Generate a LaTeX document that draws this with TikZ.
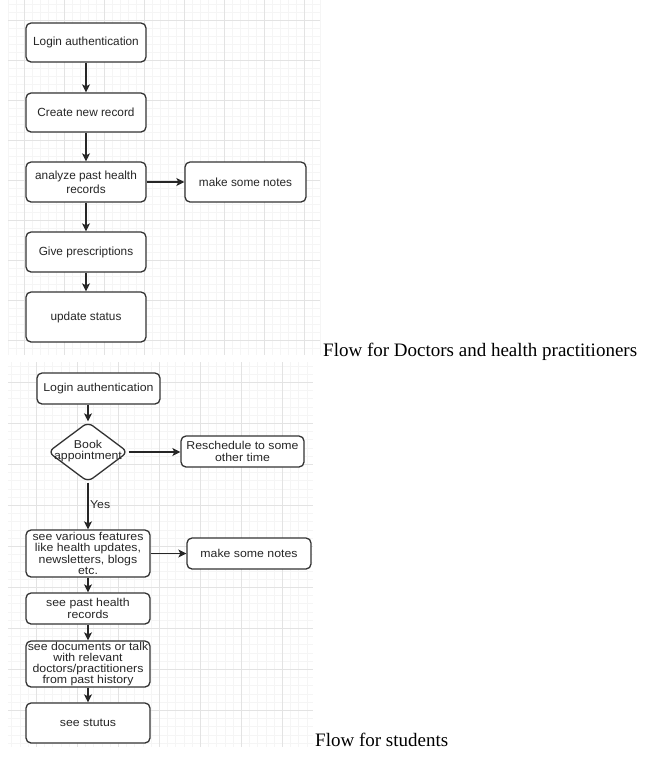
\documentclass[tikz,border=0pt]{standalone}
\usepackage{fontspec}
\setmainfont{Liberation Serif}
\newfontfamily\boxfont{Liberation Sans}
\newfontfamily\boxfontw[FakeStretch=1.08]{Liberation Sans}
\usetikzlibrary{arrows.meta,shapes.geometric}
\begin{document}
\begin{tikzpicture}[x=1pt,y=-1pt,
  minorgrid/.style={draw=gray!8,line width=0.8pt},
  majorgrid/.style={draw=gray!22,line width=0.9pt},
  tbox/.style={draw=black!80,fill=white,line width=1.3pt,rounded corners=5pt,text=black!85,
    align=center,inner sep=0pt,font=\boxfont\fontsize{11.8}{14}\selectfont},
  bbox/.style={draw=black!80,fill=white,line width=1.3pt,rounded corners=5pt,text=black!85,
    align=center,inner sep=0pt,font=\boxfontw\fontsize{11.4}{11.3}\selectfont},
  btext/.style={align=center,inner sep=0pt,text=black!85,font=\boxfontw\fontsize{11.4}{11.3}\selectfont},
  arr/.style={draw=black!85,line width=1.3pt,-{Stealth[length=8pt,width=8pt,inset=2pt]}},
  caption/.style={inner sep=0pt,anchor=base west,font=\fontsize{19}{22}\selectfont}
]
\useasboundingbox (0,0) rectangle (669,764);
% ---------- top grid ----------
\foreach \x in {8,16,...,320} \draw[minorgrid] (\x,0) -- (\x,355);
\foreach \y in {4,12,...,348} \draw[minorgrid] (8,\y) -- (320,\y);
\foreach \x in {24,64,...,304} \draw[majorgrid] (\x,0) -- (\x,355);
\foreach \y in {20,60,...,340} \draw[majorgrid] (8,\y) -- (320,\y);
% ---------- bottom grid ----------
\foreach \x in {11.8,20,...,313} \draw[minorgrid] (\x,362) -- (\x,747);
\foreach \y in {366,374.2,...,747} \draw[minorgrid] (8,\y) -- (313,\y);
\foreach \x in {36,77,...,300} \draw[majorgrid] (\x,362) -- (\x,747);
\foreach \y in {382,423,...,747} \draw[majorgrid] (8,\y) -- (313,\y);

% ---------- top flow ----------
\node[tbox,minimum width=120pt,minimum height=39pt] (tlogin) at (86,42.5) {Login authentication};
\node[tbox,minimum width=120pt,minimum height=39pt] (tcreate) at (86,112.5) {Create new record};
\node[tbox,minimum width=120pt,minimum height=40pt] (tanalyze) at (86,182) {analyze past health\\records};
\node[tbox,minimum width=121pt,minimum height=40pt] (tnotes) at (245.5,182) {make some notes};
\node[tbox,minimum width=120pt,minimum height=40pt] (tgive) at (86,252) {Give prescriptions};
\node[tbox,minimum width=120pt,minimum height=50pt] (tupdate) at (86,317) {update status};
\draw[arr] (tlogin) -- (tcreate);
\draw[arr] (tcreate) -- (tanalyze);
\draw[arr] (tanalyze) -- (tnotes);
\draw[arr] (tanalyze) -- (tgive);
\draw[arr] (tgive) -- (tupdate);
\node[caption] (cap1) at (323,356) {Flow for Doctors and health practitioners};

% ---------- bottom flow ----------
\node[bbox,minimum width=123pt,minimum height=31pt] (blogin) at (98.5,388.5) {Login authentication};
\node[diamond,draw=black!80,fill=white,line width=1.3pt,rounded corners=6pt,inner sep=0pt,
  minimum width=80pt,minimum height=60pt] (bbook) at (88,452) {};
\node[btext] (bbooktxt) at (88,451) {Book\\appointment};
\node[bbox,minimum width=123pt,minimum height=31pt] (bresched) at (242.5,451.5) {Reschedule to some\\other time};
\node[bbox,minimum width=124pt,minimum height=47pt] (bfeat) at (88,553.5) {see various features\\like health updates,\\newsletters, blogs\\etc.};
\node[bbox,minimum width=124pt,minimum height=31pt] (bnotes) at (249,553.5) {make some notes};
\node[bbox,minimum width=124pt,minimum height=31pt] (bpast) at (88,608.5) {see past health\\records};
\node[bbox,minimum width=124pt,minimum height=46pt] (bdocs) at (88,664) {see documents or talk\\with relevant\\doctors/practitioners\\from past history};
\node[bbox,minimum width=124pt,minimum height=40pt] (bstatus) at (88,723) {see stutus};
\draw[arr] (blogin.south -| bbook.north) -- (bbook.north);
\draw[arr] (bbook.east) -- (bbook.east -| bresched.west);
\draw[arr] (bbook.south) -- node[btext,anchor=west,xshift=1.5pt,pos=0.48] (yes) {Yes} (bfeat.north);
\draw[arr] (bfeat.east) -- (bfeat.east -| bnotes.west);
\draw[arr] (bfeat) -- (bpast);
\draw[arr] (bpast) -- (bdocs);
\draw[arr] (bdocs) -- (bstatus);
\node[caption] (cap2) at (315,746) {Flow for students};
\end{tikzpicture}
\end{document}
